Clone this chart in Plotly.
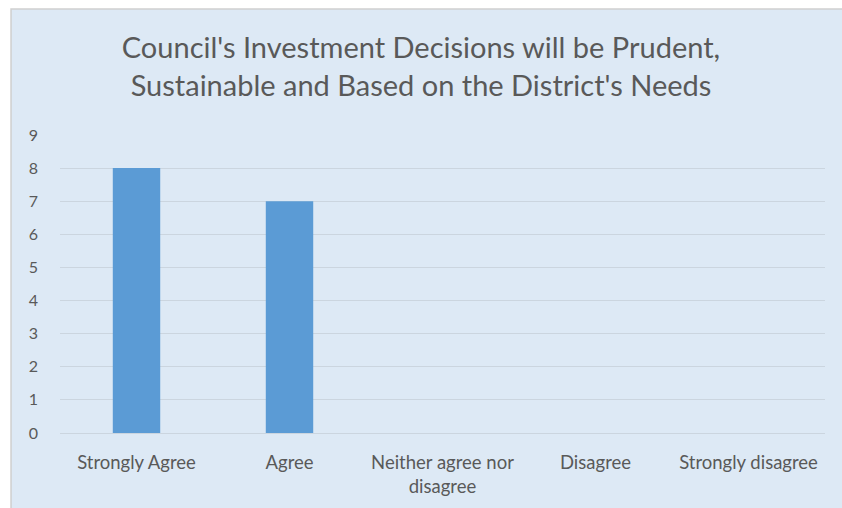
import plotly.graph_objects as go

categories = ["Strongly Agree", "Agree", "Neither agree nor<br>disagree", "Disagree", "Strongly disagree"]
responses = [8, 7, 0, 0, 0]
y_ticks = list(range(0, 10))

title_text = "Council's Investment Decisions will be Prudent,<br>Sustainable and Based on the District's Needs"

BG = "#DDE9F5"
TEXT = "#595959"
GRID = "#CBD5DF"

fig = go.Figure(
    go.Bar(
        x=categories,
        y=responses,
        marker=dict(color="#5B9BD5", line=dict(width=0)),
        width=0.31,
    )
)

# chart-area box behind the plot
fig.add_shape(
    type="rect", xref="paper", yref="paper",
    x0=-0.064, x1=1.03, y0=-0.26, y1=1.423,
    fillcolor=BG, line=dict(color="#CFCFCF", width=1.5), layer="below",
)

fig.update_layout(
    width=842, height=508,
    margin=dict(l=60, r=17, t=135, b=75),
    paper_bgcolor="white",
    plot_bgcolor="rgba(0,0,0,0)",
    font=dict(family="Lato", color=TEXT, size=18),
    title=dict(
        text=title_text, x=0.5, xanchor="center", y=0.885, yanchor="top",
        font=dict(family="Lato", size=29, color=TEXT),
    ),
    showlegend=False,
    bargap=0.69,
)
fig.update_xaxes(
    showgrid=False, showline=False, ticks="", ticklabelstandoff=16,
    automargin=False, tickfont=dict(size=18.5, color=TEXT),
)
fig.update_yaxes(
    range=[0, 9], tickvals=y_ticks, showgrid=True, gridcolor=GRID, gridwidth=1,
    zeroline=True, zerolinecolor=GRID, zerolinewidth=1, showline=False,
    ticks="", ticklabelstandoff=21, tickfont=dict(size=16, color=TEXT),
)

fig.write_html("out.html")
